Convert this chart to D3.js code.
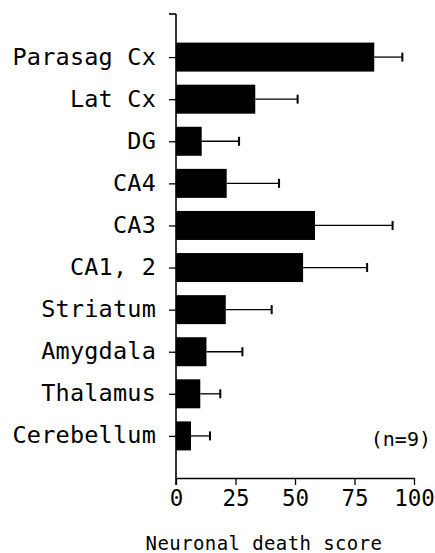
<!DOCTYPE html>
<html><head><meta charset="utf-8">
<script src="https://cdn.jsdelivr.net/npm/d3@7"></script>
<style>
body{margin:0;background:#fff;}
text{font-family:"DejaVu Sans Mono",monospace;fill:#000;}
</style></head>
<body><svg id="c" width="435" height="553"></svg>
<script>
const categories = ["Parasag Cx","Lat Cx","DG","CA4","CA3","CA1, 2","Striatum","Amygdala","Thalamus","Cerebellum"];
const means = [83.3, 33.3, 10.8, 21.3, 58.4, 53.4, 20.9, 12.8, 10.2, 6.3];
const errors = [11.8, 17.8, 15.7, 22.0, 32.6, 26.9, 19.3, 15.1, 8.4, 8.0];
const xTicks = [0, 25, 50, 75, 100];
const xLabel = "Neuronal death score";
const note = "(n=9)";

const svg = d3.select("#c");
const x = d3.scaleLinear().domain([0,100]).range([176,414]);
const y = d3.scalePoint().domain(categories).range([15,478]).padding(1);
const bh = 29;

// bars
svg.selectAll("rect.bar").data(categories).join("rect")
  .attr("x", x(0)).attr("y", d=>y(d)-bh/2)
  .attr("width", (d,i)=>x(means[i])-x(0)).attr("height", bh)
  .attr("fill","#000");

// error bars
svg.selectAll("line.err").data(categories).join("line")
  .attr("x1",(d,i)=>x(means[i])).attr("x2",(d,i)=>x(means[i]+errors[i]))
  .attr("y1",d=>y(d)).attr("y2",d=>y(d)).attr("stroke","#000").attr("stroke-width",1.3);
svg.selectAll("line.cap").data(categories).join("line")
  .attr("x1",(d,i)=>x(means[i]+errors[i])).attr("x2",(d,i)=>x(means[i]+errors[i]))
  .attr("y1",d=>y(d)-4.5).attr("y2",d=>y(d)+4.5).attr("stroke","#000").attr("stroke-width",2);

// y axis
const ya = svg.append("g").attr("transform",`translate(${x(0)},0)`)
  .call(d3.axisLeft(y).tickSize(7).tickSizeOuter(0).tickPadding(13));
ya.select(".domain").remove();
ya.selectAll(".tick line").attr("stroke","#000").attr("stroke-width",1.3);
ya.selectAll(".tick text").attr("font-size",23.5).attr("letter-spacing","0.2px")
  .attr("dy","0.3em").style("font-family","'DejaVu Sans Mono',monospace");
svg.append("line").attr("x1",x(0)).attr("x2",x(0)).attr("y1",14).attr("y2",485)
  .attr("stroke","#000").attr("stroke-width",1.6);
svg.append("line").attr("x1",x(0)-7).attr("x2",x(0)).attr("y1",14).attr("y2",14)
  .attr("stroke","#000").attr("stroke-width",1.6);

// x axis
const xa = svg.append("g").attr("transform","translate(0,478)")
  .call(d3.axisBottom(x).tickValues(xTicks).tickSize(7).tickSizeOuter(0).tickPadding(5));
xa.select(".domain").attr("stroke","#000").attr("stroke-width",1.6);
xa.selectAll(".tick text").attr("font-size",22.5)
  .style("font-family","'DejaVu Sans Mono',monospace");
xa.selectAll(".tick line").attr("stroke","#000").attr("stroke-width",1.3);

svg.append("text").attr("x",264).attr("y",550).attr("text-anchor","middle")
  .attr("font-size",19).attr("letter-spacing","0.4px").text(xLabel);
svg.append("text").attr("x",431).attr("y",446).attr("text-anchor","end")
  .attr("font-size",20).text(note);
</script></body></html>
